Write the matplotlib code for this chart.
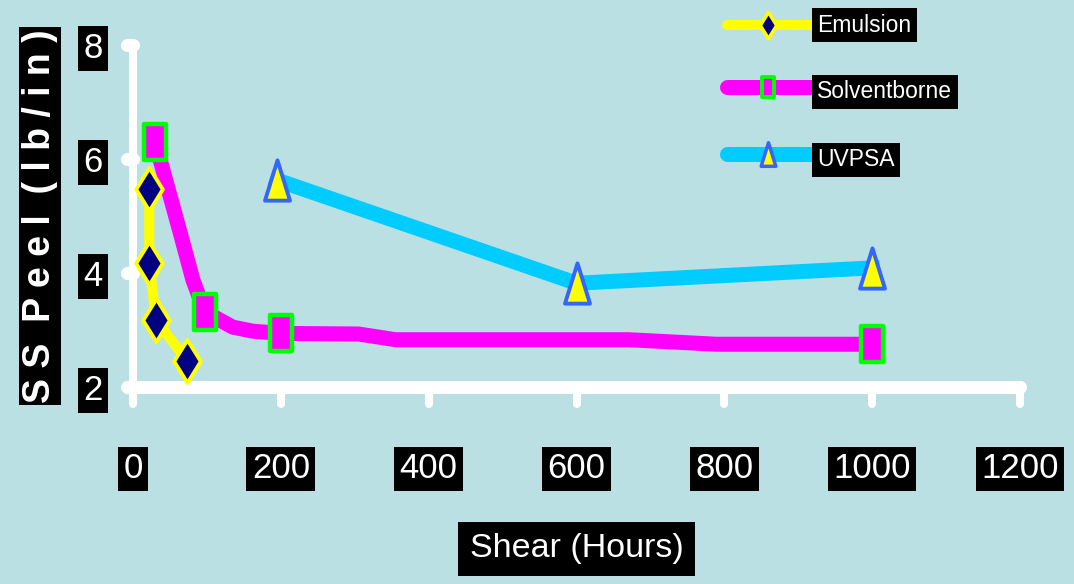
import numpy as np
import matplotlib.pyplot as plt
from matplotlib.lines import Line2D
from matplotlib.path import Path

# SS peel (lb/in) after shear (hours) for three adhesive systems
emulsion_hours = [22, 22, 31, 73]
emulsion_peel = [5.47, 4.18, 3.18, 2.46]

solvent_hours = [30, 97, 200, 1000]
solvent_peel = [6.30, 3.32, 2.94, 2.75]
# the solventborne trace runs through a few extra vertices between markers
solvent_path_hours = [30, 64, 81, 97, 135, 162, 200, 305, 355, 670, 790, 1000]
solvent_path_peel = [6.30, 4.70, 3.88, 3.32, 3.05, 2.98, 2.94, 2.93, 2.83, 2.83, 2.75, 2.75]

uv_hours = [195, 600, 1000]
uv_peel = [5.63, 3.82, 4.09]

x_ticks = [0, 200, 400, 600, 800, 1000, 1200]
y_ticks = [2, 4, 6, 8]
series_names = ['Emulsion', 'Solventborne', 'UVPSA']

BG = '#bae0e3'
FONT = ['Liberation Sans', 'DejaVu Sans']
W, H = 1074, 584

# tall marker shapes
diamond = Path([(0, 1), (0.62, 0), (0, -1), (-0.62, 0), (0, 1)],
               [1, 2, 2, 2, 79])
rect = Path([(-0.62, -1), (0.62, -1), (0.62, 1), (-0.62, 1), (-0.62, -1)],
            [1, 2, 2, 2, 79])
tri = Path([(0, 1), (0.62, -1), (-0.62, -1), (0, 1)], [1, 2, 2, 79])

fig = plt.figure(figsize=(W / 100, H / 100), dpi=100, facecolor=BG)
ax = fig.add_axes([133 / W, 1 - 387 / H, (1020 - 133) / W, (387 - 45) / H])
ax.set_facecolor(BG)
ax.set_xlim(0, 1200)
ax.set_ylim(2, 8)
for s in ax.spines.values():
    s.set_visible(False)

# data units per pixel
dx = 1200 / (1020 - 133)
dy = 6 / (387 - 45)

# white axis lines with rounded ticks
axis_kw = dict(color='white', solid_capstyle='round', clip_on=False, zorder=1)
ax.plot([0, 1200], [2, 2], lw=9.4, **axis_kw)
ax.plot([0, 0], [2, 8], lw=5.8, **axis_kw)
for y in y_ticks:
    ax.plot([-6 * dx, 0], [y, y], lw=9.4, **axis_kw)
for x in x_ticks:
    ax.plot([x, x], [2, 2 - 17 * dy], lw=5.8, **axis_kw)

# series lines
ax.plot(emulsion_hours, emulsion_peel, color='#ffff00', lw=7.2,
        solid_joinstyle='round', clip_on=False, zorder=2)
ax.plot(solvent_path_hours, solvent_path_peel, color='#ff00ff', lw=10.8,
        solid_joinstyle='round', clip_on=False, zorder=2)
ax.plot(uv_hours, uv_peel, color='#00ccff', lw=10.8,
        solid_joinstyle='round', clip_on=False, zorder=2)

# markers
ax.plot(emulsion_hours, emulsion_peel, ls='none', marker=diamond, ms=31,
        mfc='#000080', mec='#ffff00', mew=2.8, clip_on=False, zorder=3)
ax.plot(solvent_hours, solvent_peel, ls='none', marker=rect, ms=26,
        mfc='#ff00ff', mec='#00ff00', mew=3.2, clip_on=False, zorder=3)
ax.plot(uv_hours, uv_peel, ls='none', marker=tri, ms=29,
        mfc='#ffff00', mec='#3366ff', mew=2.8, clip_on=False, zorder=3)

# tick labels: white on black boxes
ax.set_xticks(x_ticks)
ax.set_yticks(y_ticks)
ax.tick_params(length=0, labelcolor='white', labelsize=25)
ax.tick_params(axis='x', pad=47)
ax.tick_params(axis='y', pad=22)
for lab in ax.get_xticklabels() + ax.get_yticklabels():
    lab.set_family(FONT)
    lab.set_bbox(dict(facecolor='black', edgecolor='none', pad=4))

ax.set_xlabel('Shear (Hours)', color='white', fontsize=24.5, family=FONT,
              va='center', bbox=dict(facecolor='black', edgecolor='none', pad=8))
ax.xaxis.set_label_coords(0.5, (387 - 549) / 342)
ax.set_ylabel('S S  P e e l  ( l b / i n )', color='white', fontsize=27,
              fontweight='bold', family=FONT,
              va='center', bbox=dict(facecolor='black', edgecolor='none', pad=2))
ax.yaxis.set_label_coords((40 - 133) / 887, 0.5)

# legend drawn in figure pixels
legend_style = [
    dict(color='#ffff00', lw=7.2, marker=diamond, ms=19, mfc='#000080',
         mec='#ffff00', mew=2.5),
    dict(color='#ff00ff', lw=10.8, marker=rect, ms=14, mfc='#ff00ff',
         mec='#00ff00', mew=2.8),
    dict(color='#00ccff', lw=10.8, marker=tri, ms=17, mfc='#ffff00',
         mec='#3366ff', mew=2.5),
]
line_y = [25, 87, 154]
text_y = [25, 92, 160]
for name, style, ly, ty in zip(series_names, legend_style, line_y, text_y):
    yy = 1 - ly / H
    fig.add_artist(Line2D([727 / W, 813 / W], [yy, yy], color=style['color'],
                          lw=style['lw'], solid_capstyle='round',
                          transform=fig.transFigure))
    fig.add_artist(Line2D([768 / W], [yy], ls='none', marker=style['marker'],
                          ms=style['ms'], mfc=style['mfc'], mec=style['mec'],
                          mew=style['mew'], transform=fig.transFigure))
    fig.text(817 / W, 1 - ty / H, name, color='white', fontsize=16.5,
             family=FONT, ha='left', va='center',
             bbox=dict(facecolor='black', edgecolor='none', pad=4))

fig.savefig('out.png', dpi=100, facecolor=BG)
